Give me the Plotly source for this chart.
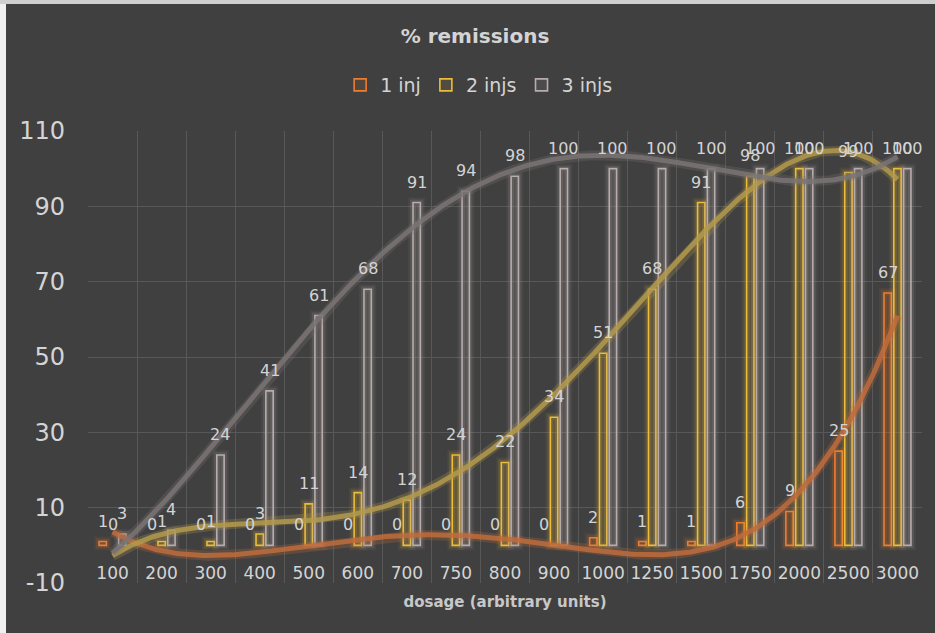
import numpy as np
import plotly.graph_objects as go

# Dosage categories (arbitrary units) and % remissions per regimen
dosage = ["100", "200", "300", "400", "500", "600", "700", "750", "800",
          "900", "1000", "1250", "1500", "1750", "2000", "2500", "3000"]
inj1 = [1, 0, 0, 0, 0, 0, 0, 0, 0, 0, 2, 1, 1, 6, 9, 25, 67]
inj2 = [0, 1, 1, 3, 11, 14, 12, 24, 22, 34, 51, 68, 91, 98, 100, 99, 100]
inj3 = [3, 4, 24, 41, 61, 68, 91, 94, 98, 100, 100, 100, 100, 100, 100, 100, 100]
series_names = ["1 inj", "2 injs", "3 injs"]
y_ticks = [-10, 10, 30, 50, 70, 90, 110]
TREND_ORDER = 4

BG = "#404040"
FONT = "DejaVu Sans"
TEXT = "#d4d4d4"
GRID = "#585858"

bar_cols = [(237, 125, 49), (236, 188, 58), (184, 172, 172)]
trend_cols = [(192, 108, 60), (180, 154, 76), (122, 116, 116)]


def rgba(c, a):
    return f"rgba({c[0]},{c[1]},{c[2]},{a})"


idx = np.arange(len(dosage))
offsets = [-0.2, 0.0, 0.2]
series = [inj1, inj2, inj3]

fig = go.Figure()

# Outlined bars with a soft halo; empty (zero) bars get no outline
for k, (name, vals) in enumerate(zip(series_names, series)):
    col = bar_cols[k]
    x = idx + offsets[k]
    for lw, a in [(10, 0.07), (6, 0.14)]:
        fig.add_trace(go.Bar(
            x=x, y=vals, width=0.15, showlegend=False, hoverinfo="skip",
            marker=dict(color="rgba(0,0,0,0)",
                        line=dict(color=rgba(col, a),
                                  width=[lw if v else 0 for v in vals])),
        ))
    fig.add_trace(go.Bar(
        x=x, y=vals, width=0.15, name=name, showlegend=False,
        marker=dict(color=rgba(col, 0.10),
                    line=dict(color=rgba(col, 1),
                              width=[1.6 if v else 0 for v in vals])),
    ))
    # legend entry with a uniform outlined swatch
    fig.add_trace(go.Bar(
        x=[None], y=[None], name=name, showlegend=True,
        marker=dict(color=rgba(col, 0.10), line=dict(color=rgba(col, 1), width=1.6)),
    ))

# Polynomial trendlines over category positions 1..n
xs = np.linspace(1, len(dosage), 400)
for k, vals in enumerate(series):
    coef = np.polyfit(np.arange(1, len(dosage) + 1), vals, TREND_ORDER)
    ys = np.polyval(coef, xs)
    col = trend_cols[k]
    fig.add_trace(go.Scatter(x=xs - 1, y=ys, mode="lines", showlegend=False,
                             hoverinfo="skip",
                             line=dict(color=rgba(col, 0.25), width=10)))
    fig.add_trace(go.Scatter(x=xs - 1, y=ys, mode="lines", showlegend=False,
                             hoverinfo="skip",
                             line=dict(color=rgba(col, 0.85), width=5)))

# Value labels above each bar
annotations = []
for k, vals in enumerate(series):
    for i, v in enumerate(vals):
        annotations.append(dict(
            x=idx[i] + offsets[k], y=v, xref="x", yref="y", text=str(v),
            showarrow=False, yanchor="bottom", yshift=9,
            font=dict(family=FONT, size=16, color=TEXT),
        ))

fig.update_layout(
    width=935, height=633,
    margin=dict(l=88, r=13, t=131, b=50),
    paper_bgcolor=BG, plot_bgcolor=BG,
    barmode="overlay",
    font=dict(family=FONT, color=TEXT),
    title=dict(text="<b>% remissions</b>", x=0.508, xanchor="center",
               y=1 - 36 / 633, yanchor="middle", yref="container",
               font=dict(family=FONT, size=20, color=TEXT)),
    legend=dict(orientation="h", x=0.469, xanchor="center",
                y=1 + 46 / 452, yanchor="middle",
                font=dict(family=FONT, size=19, color=TEXT),
                bgcolor="rgba(0,0,0,0)", itemclick=False),
    showlegend=True,
    annotations=annotations,
    shapes=[
        dict(type="rect", xref="paper", yref="paper", xsizemode="pixel",
             ysizemode="pixel", xanchor=0, yanchor=0, x0=-88, x1=-82,
             y0=-50, y1=131 + 452, fillcolor="#f0f0f0", line_width=0, layer="above"),
        dict(type="rect", xref="paper", yref="paper", xsizemode="pixel",
             ysizemode="pixel", xanchor=0, yanchor=1, x0=-88, x1=847,
             y0=127, y1=131, fillcolor="#cfcfcf", line_width=0, layer="above"),
    ],
)

fig.update_xaxes(
    range=[-0.5, len(dosage) - 0.5],
    tickmode="array", tickvals=idx, ticktext=dosage,
    ticks="outside", ticklen=12, tickcolor="rgba(0,0,0,0)",
    tickfont=dict(family=FONT, size=17, color=TEXT),
    showgrid=False, zeroline=False, showline=False,
    minor=dict(tick0=-0.5, dtick=1, showgrid=True, gridcolor=GRID, gridwidth=1, ticks=""),
    anchor="free", position=10 / 120,
    title=dict(text="<b>dosage (arbitrary units)</b>", standoff=14,
               font=dict(family=FONT, size=15, color="#c8c8c8")),
)
fig.update_yaxes(
    range=[-10, 110], tickmode="array", tickvals=y_ticks,
    ticktext=[str(v) for v in y_ticks],
    tickfont=dict(family=FONT, size=24, color=TEXT),
    ticklabelstandoff=22,
    showgrid=True, gridcolor=GRID, gridwidth=1, zeroline=False,
    showline=False,
)

fig.write_html("out.html")
